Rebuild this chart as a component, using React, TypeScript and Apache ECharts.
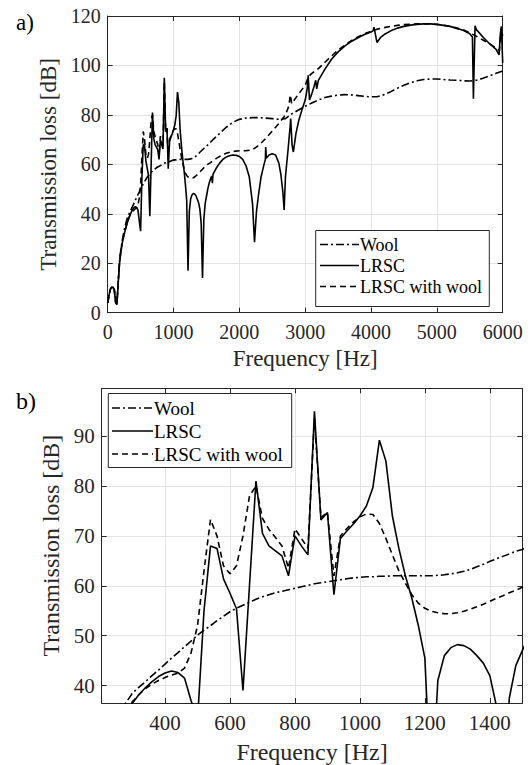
import React, { useEffect, useRef } from "react";
import * as echarts from "echarts";

// ---------- data ----------
const freqLow = [0, 20, 40, 60, 80, 100, 120, 140, 160, 180, 200, 220, 240, 260, 280, 300, 320, 340, 360, 380, 400, 420, 440, 460, 480, 500, 520, 540, 560, 580, 600, 620, 640, 660, 680, 700, 720, 740, 760, 780, 800, 820, 840, 860, 880, 900, 920, 940, 960, 980, 1000, 1020, 1040, 1060, 1080, 1100, 1120, 1140, 1160, 1180, 1200, 1220, 1240, 1260, 1280, 1300, 1320, 1340, 1360, 1380, 1400, 1420, 1440, 1460, 1480, 1500];

const woolLow = [4, 7, 9.5, 10.3, 10.3, 9.5, 6, 4, 13, 21, 25.5, 29, 32, 34.5, 36.6, 38.5, 39.7, 40.8, 42, 43.1, 44.3, 45.5, 46.6, 47.8, 48.9, 50.1, 51.1, 52, 53, 53.9, 54.8, 55.5, 56.1, 56.7, 57.3, 57.8, 58.2, 58.6, 58.9, 59.2, 59.5, 59.8, 60.1, 60.4, 60.6, 60.8, 61, 61.2, 61.4, 61.6, 61.7, 61.8, 61.8, 61.9, 61.9, 62, 62, 62, 62, 62, 62, 62, 62.1, 62.2, 62.4, 62.6, 62.9, 63.3, 63.8, 64.3, 64.9, 65.4, 65.9, 66.4, 66.9, 67.3];

const lrscLow = [4, 7, 9.5, 10.3, 10.3, 9, 4, 3.2, 12, 20, 24.5, 28, 30.5, 32.7, 34.7, 36.5, 38.2, 39.6, 40.8, 41.8, 42.5, 42.9, 42.6, 41.5, 37, 33, 55, 68, 67.5, 61.4, 58.5, 55.4, 39, 60, 81, 70.5, 68, 67, 66, 62, 70, 68, 66.2, 95, 73.2, 74.7, 58.2, 69.5, 71, 72.4, 74, 76, 79.7, 89.2, 85, 74, 67.5, 62, 57.5, 52, 45.5, 17, 41, 46, 47.6, 48.2, 48, 47.3, 46, 44.5, 42, 36, 14, 37.5, 44, 47];

const lrscWoolLow = [4, 7, 9.5, 10.3, 10.3, 9, 4.5, 3.5, 12.5, 20.5, 25, 28.3, 30.8, 33, 35, 36.8, 38.2, 39.4, 40.3, 41, 41.6, 42.1, 42.5, 43.5, 46.5, 52, 63, 73.3, 70, 64, 62.4, 64, 70, 78, 80, 73.5, 71.3, 69.7, 68, 63.5, 71.4, 69.5, 67.5, 93.5, 73.7, 74.7, 62, 70, 71.5, 72.8, 73.8, 74.4, 74.3, 72.5, 69.5, 66.2, 63, 60.5, 58.2, 56.5, 55.5, 54.9, 54.6, 54.4, 54.4, 54.6, 54.9, 55.3, 55.8, 56.3, 56.9, 57.5, 58, 58.6, 59.1, 59.7];

const woolHighFreq = [1600, 1700, 1800, 1900, 2000, 2100, 2200, 2300, 2400, 2500, 2600, 2700, 2800, 2900, 3000, 3100, 3200, 3300, 3400, 3500, 3600, 3700, 3800, 3900, 4000, 4100, 4200, 4300, 4400, 4500, 4600, 4700, 4800, 4900, 5000, 5100, 5200, 5300, 5400, 5500, 5600, 5700, 5800, 5900, 6000];
const woolHigh = [70, 72.5, 75, 77, 78.2, 78.7, 78.9, 78.9, 78.7, 78.5, 78.2, 78.5, 80.5, 82, 83.5, 84.8, 86, 87, 87.6, 88, 88.2, 88.1, 87.8, 87.5, 87.3, 87.4, 88.2, 89.4, 90.8, 92, 93, 93.8, 94.3, 94.5, 94.5, 94.3, 94.1, 94, 93.8, 93.7, 94, 94.8, 95.8, 96.8, 97.8];

const lrscHighFreq = [1520, 1540, 1560, 1580, 1590, 1600, 1650, 1700, 1750, 1800, 1850, 1900, 1950, 2000, 2050, 2100, 2150, 2200, 2230, 2260, 2290, 2330, 2370, 2395, 2400, 2410, 2450, 2500, 2550, 2600, 2630, 2660, 2680, 2700, 2740, 2770, 2780, 2800, 2820, 2860, 2900, 2950, 3000, 3030, 3045, 3065, 3100, 3140, 3160, 3175, 3200, 3300, 3400, 3500, 3600, 3700, 3800, 3900, 4000, 4030, 4045, 4090, 4150, 4200, 4300, 4400, 4500, 4600, 4700, 4800, 4900, 5000, 5100, 5200, 5300, 5400, 5500, 5540, 5555, 5580, 5600, 5700, 5800, 5900, 5945, 5965, 5980, 6000];
const lrscHigh = [50, 52.3, 54, 55.3, 52.4, 56, 58.5, 60.5, 62, 63, 63.5, 63.8, 63.7, 63.2, 62, 59.5, 55, 44, 28.5, 41, 47.5, 55, 59.5, 62, 67, 62.5, 63.8, 64.3, 63.8, 60.5, 56, 49, 41.6, 55, 66, 75, 78.5, 68, 65, 72.5, 77.5, 82, 86, 90.5, 96, 86, 88.5, 92, 94, 90.5, 94, 98.5, 102.5, 105.5, 107.8, 109.7, 111.2, 112.5, 113.5, 114, 115.5, 109.3, 111.5, 112.5, 114, 115.1, 115.8, 116.3, 116.6, 116.8, 116.8, 116.6, 116.2, 115.8, 115, 114.2, 112.8, 111.5, 86.5, 116, 114.5, 111.5, 108.8, 106.5, 104.3, 113, 115.8, 101];

const lrscWoolHighFreq = [1550, 1600, 1650, 1700, 1750, 1800, 1900, 2000, 2100, 2200, 2300, 2400, 2500, 2600, 2700, 2750, 2775, 2795, 2820, 2900, 3000, 3050, 3100, 3200, 3300, 3400, 3500, 3600, 3700, 3800, 3900, 4000, 4100, 4200, 4300, 4400, 4500, 4600, 4700, 4800, 4900, 5000, 5100, 5200, 5300, 5400, 5500, 5600, 5700, 5800, 5900, 5950, 5975, 6000];
const lrscWoolHigh = [60.5, 61.5, 62.4, 63.2, 63.9, 64.5, 65.2, 65.5, 65.5, 65.9, 67.8, 70.5, 73.5, 76.5, 80, 83.5, 88, 84.5, 85.5, 88.5, 92, 95.5, 96.8, 98.7, 101.3, 103.8, 106.2, 108.2, 110, 111.5, 112.8, 113.8, 114.7, 115.3, 115.8, 116.2, 116.5, 116.7, 116.8, 116.8, 116.8, 116.6, 116.3, 115.8, 115.2, 114.4, 113.2, 111.8, 110.3, 108.8, 107, 106, 115, 112];

const seriesNames = ["Wool", "LRSC", "LRSC with wool"];
const panelLabels = ["a)", "b)"];
const axisTitleX = "Frequency [Hz]";
const axisTitleY = "Transmission loss [dB]";

// ---------- styling ----------
const FONT = "Liberation Serif";
const AX = "#262626";
const GRIDC = "#e3e3e3";
const LW = 1.6;
const DASHES: (number[] | "solid")[] = [[8, 3, 2, 3], "solid", [6, 4]];

const pairs = (xs: number[], ys: number[]) => xs.map((x, i) => [x, ys[i]]);
const woolData = [...pairs(freqLow, woolLow), ...pairs(woolHighFreq, woolHigh)];
const lrscData = [...pairs(freqLow, lrscLow), ...pairs(lrscHighFreq, lrscHigh)];
const lrscWoolData = [...pairs(freqLow, lrscWoolLow), ...pairs(lrscWoolHighFreq, lrscWoolHigh)];
const allData = [woolData, lrscData, lrscWoolData];

function axisBase(gridIndex: number, position: string, labelSize: number, showLabel: boolean, split: boolean) {
  return {
    gridIndex,
    type: "value",
    position,
    axisLine: { show: true, onZero: false, lineStyle: { color: AX, width: 1 } },
    axisTick: { show: true, inside: true, length: 5, lineStyle: { color: AX, width: 1 } },
    axisLabel: {
      show: showLabel,
      fontSize: labelSize,
      fontFamily: FONT,
      color: AX,
      formatter: (v: number) => String(v),
    },
    splitLine: { show: split, lineStyle: { color: GRIDC, width: 1 } },
  } as any;
}

export default function App() {
  const ref = useRef<HTMLDivElement>(null);
  useEffect(() => {
    if (!ref.current) return;
    document.body.style.margin = "0";
    const chart = echarts.init(ref.current, undefined, { renderer: "svg" });

    const gA = { left: 107.7, top: 16, width: 395, height: 296.7 };
    const gB = { left: 101.7, top: 388.3, width: 420.6, height: 315.7 };

    const xA = axisBase(0, "bottom", 20, true, true);
    Object.assign(xA, { min: 0, max: 6000, interval: 1000, name: axisTitleX, nameLocation: "middle", nameGap: 34, nameTextStyle: { fontSize: 23, fontFamily: FONT, color: AX } });
    xA.axisLabel.margin = 9;
    const xAt = axisBase(0, "top", 20, false, false);
    Object.assign(xAt, { min: 0, max: 6000, interval: 1000 });

    const xB = axisBase(1, "bottom", 21, true, true);
    Object.assign(xB, { min: 205, max: 1500, splitNumber: 7, name: axisTitleX, nameLocation: "middle", nameGap: 37, nameTextStyle: { fontSize: 24, fontFamily: FONT, color: AX } });
    xB.axisLabel.margin = 9;
    xB.axisLabel.showMinLabel = false;
    xB.axisLabel.showMaxLabel = false;
    const xBt = axisBase(1, "top", 21, false, false);
    Object.assign(xBt, { min: 205, max: 1500, splitNumber: 7 });

    const yA = axisBase(0, "left", 20, true, true);
    Object.assign(yA, { min: 0, max: 120, interval: 20, name: axisTitleY, nameLocation: "middle", nameGap: 39, nameTextStyle: { fontSize: 23, fontFamily: FONT, color: AX } });
    yA.axisLabel.margin = 7;
    const yAr = axisBase(0, "right", 20, false, false);
    Object.assign(yAr, { min: 0, max: 120, interval: 20 });

    const yB = axisBase(1, "left", 21, true, true);
    Object.assign(yB, { min: 36.5, max: 99.6, splitNumber: 5, name: axisTitleY, nameLocation: "middle", nameGap: 31, nameTextStyle: { fontSize: 24, fontFamily: FONT, color: AX } });
    yB.axisLabel.margin = 7;
    yB.axisLabel.showMinLabel = false;
    yB.axisLabel.showMaxLabel = false;
    const yBr = axisBase(1, "right", 21, false, false);
    Object.assign(yBr, { min: 36.5, max: 99.6, splitNumber: 5 });

    const series: any[] = [];
    [0, 1].forEach((g) => {
      allData.forEach((d, i) => {
        series.push({
          type: "line",
          name: seriesNames[i] + (g ? " (b)" : ""),
          xAxisIndex: g * 2,
          yAxisIndex: g * 2,
          data: d,
          showSymbol: false,
          symbol: "none",
          silent: true,
          clip: true,
          lineStyle: { color: "#000", width: LW, type: DASHES[i] },
          z: 3,
        });
      });
    });

    const legend = (x: number, y: number, w: number, h: number, rows: number[], fs: number, lineX1: number, lineX2: number) => {
      const out: any[] = [
        { type: "rect", z: 100, shape: { x, y, width: w, height: h }, style: { fill: "#fff", stroke: AX, lineWidth: 1 } },
      ];
      seriesNames.forEach((n, i) => {
        const dash = DASHES[i];
        out.push({
          type: "line",
          z: 101,
          shape: { x1: lineX1, y1: rows[i], x2: lineX2, y2: rows[i] },
          style: { stroke: "#000", lineWidth: LW, lineDash: dash === "solid" ? null : dash },
        });
        out.push({
          type: "text",
          z: 101,
          x: lineX2 + 1,
          y: rows[i],
          style: { text: n, fontSize: fs, fontFamily: FONT, fill: "#000", verticalAlign: "middle", align: "left" },
        });
      });
      return out;
    };

    chart.setOption({
      animation: false,
      grid: [
        { ...gA, containLabel: false },
        { ...gB, containLabel: false },
      ],
      xAxis: [xA, xAt, xB, xBt],
      yAxis: [yA, yAr, yB, yBr],
      series,
      graphic: [
        { type: "text", x: 16, y: 11, z: 100, style: { text: panelLabels[0], fontSize: 23, fontFamily: FONT, fill: "#000" } },
        { type: "text", x: 16, y: 389, z: 100, style: { text: panelLabels[1], fontSize: 24, fontFamily: FONT, fill: "#000" } },
        ...legend(315.7, 230.5, 173.6, 76, [244.5, 265.5, 286.5], 18, 320, 359),
        ...legend(108.3, 393.5, 183.4, 74, [408, 431, 454], 19, 112, 153),
      ],
    });
    return () => chart.dispose();
  }, []);

  return <div ref={ref} style={{ width: 531, height: 765, background: "#fff" }} />;
}
